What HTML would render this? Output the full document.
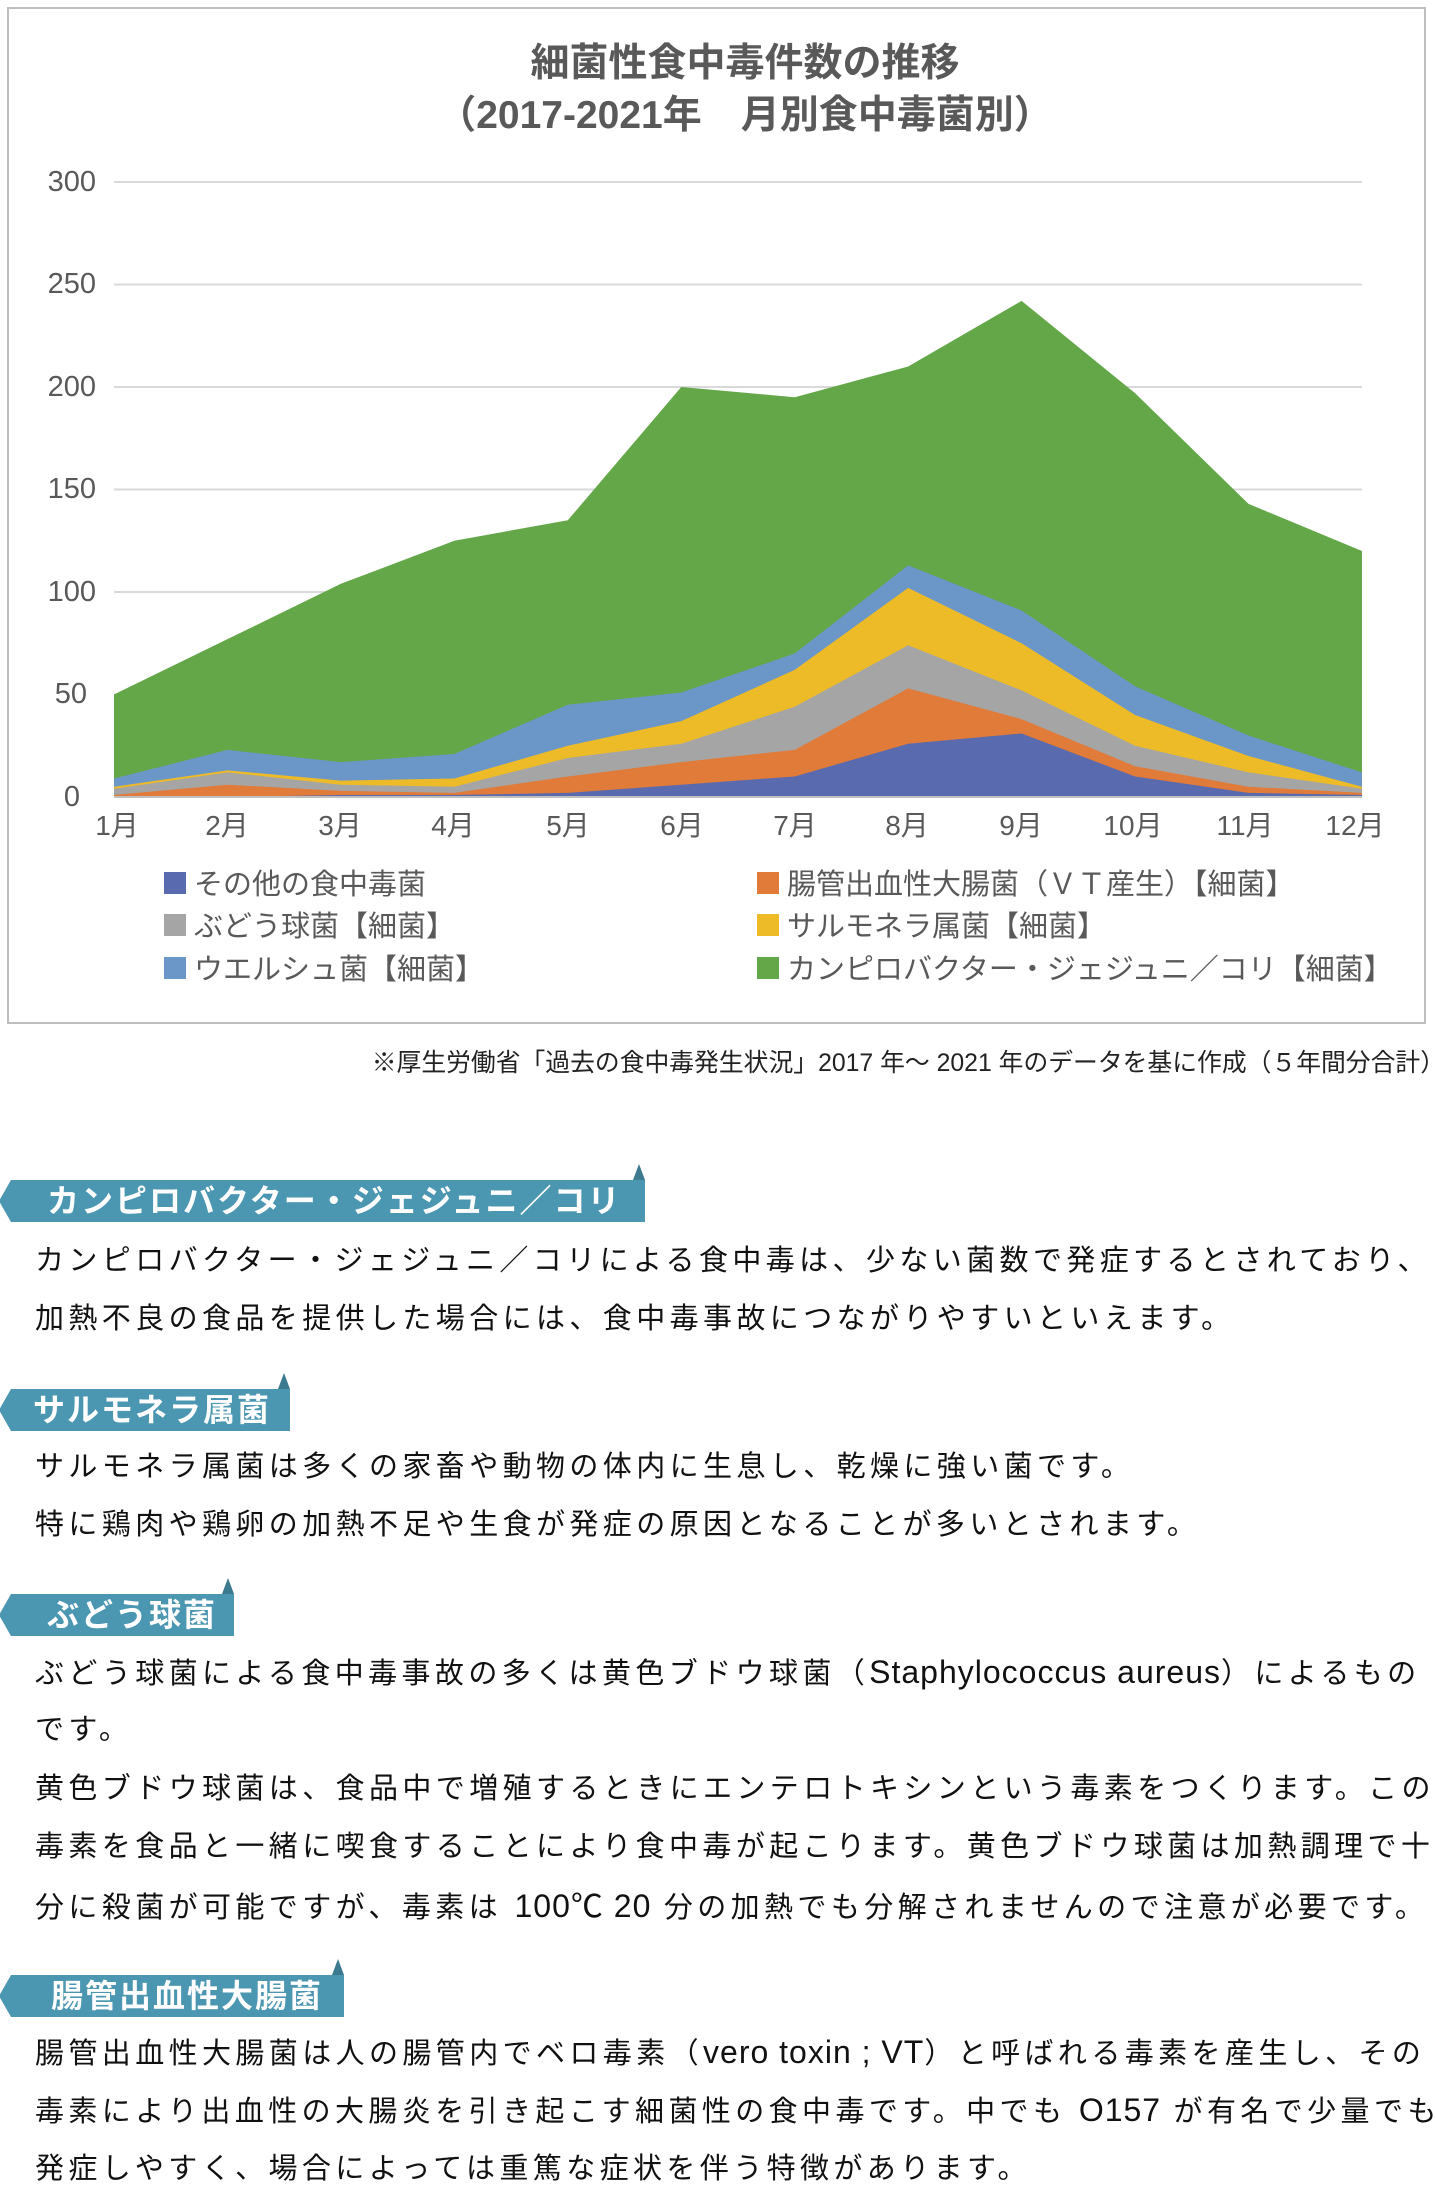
<!DOCTYPE html>
<html><head><meta charset="utf-8">
<style>
body{margin:0;width:1435px;height:2186px;background:#fff;overflow:hidden;position:relative;font-family:"Liberation Sans","Noto Sans CJK JP",sans-serif;}
.frame{position:absolute;left:7px;top:7px;width:1419px;height:1017px;border:2px solid #bdbdbd;box-sizing:border-box;}
.src{position:absolute;right:-10px;top:1043px;font-size:24.8px;color:#222;white-space:nowrap;}
.hd{position:absolute;left:11px;height:42px;background:#4b96b1;color:#fff;font-weight:bold;font-size:32px;line-height:42px;padding-left:36px;box-sizing:border-box;white-space:nowrap;letter-spacing:2px;}
.hd:before{content:"";position:absolute;left:-12px;top:0;border-right:12px solid #4b96b1;border-top:21px solid transparent;border-bottom:21px solid transparent;}
.hd:after{content:"";position:absolute;right:0;top:-16px;border-bottom:16px solid #3c7a90;border-left:6px solid transparent;border-right:6px solid transparent;}
.p{position:absolute;left:35px;font-size:29px;color:#111;white-space:nowrap;letter-spacing:4.4px;line-height:40px;}
.l{letter-spacing:1px;font-size:32px;}
</style></head><body>
<div class="frame"></div>
<svg width="1435" height="1030" style="position:absolute;left:0;top:0" font-family="Liberation Sans, Noto Sans CJK JP, sans-serif">
<text x="745" y="76" text-anchor="middle" font-size="39" font-weight="bold" fill="#595959">細菌性食中毒件数の推移</text>
<text x="745" y="128" text-anchor="middle" font-size="39" font-weight="bold" fill="#595959">（2017-2021年　月別食中毒菌別）</text>
<g stroke="#d9d9d9" stroke-width="2">
<line x1="114" x2="1362" y1="182" y2="182"/><line x1="114" x2="1362" y1="284.5" y2="284.5"/><line x1="114" x2="1362" y1="387" y2="387"/><line x1="114" x2="1362" y1="489.5" y2="489.5"/><line x1="114" x2="1362" y1="592" y2="592"/><line x1="114" x2="1362" y1="694.5" y2="694.5"/></g>
<g font-size="29" fill="#595959" text-anchor="end">
<text x="96" y="191">300</text><text x="96" y="293">250</text><text x="96" y="396">200</text><text x="96" y="498">150</text><text x="96" y="601">100</text><text x="87" y="703">50</text><text x="80" y="806">0</text></g>
<g transform="translate(114,797) scale(113.45,-2.05)">
<polygon fill="#63a748" points="0,50 1,77 2,104 3,125 4,135 5,200 6,195 7,210 8,242 9,197 10,143 11,120 11,0 0,0"/>
<polygon fill="#6b96c8" points="0,9 1,23 2,17 3,21 4,45 5,51 6,70 7,113 8,91 9,54 10,30 11,12 11,0 0,0"/>
<polygon fill="#edbb27" points="0,5 1,13 2,8 3,9 4,25 5,37 6,62 7,102 8,75 9,40 10,20 11,5 11,0 0,0"/>
<polygon fill="#a5a5a5" points="0,4 1,12 2,6 3,5 4,19 5,26 6,44 7,74 8,52 9,25 10,12 11,4 11,0 0,0"/>
<polygon fill="#e07b39" points="0,1 1,6 2,3 3,2 4,10 5,17 6,23 7,53 8,38 9,15 10,5 11,2 11,0 0,0"/>
<polygon fill="#5a6aae" points="0,0 1,0 2,1 3,1 4,2 5,6 6,10 7,26 8,31 9,10 10,2 11,1 11,0 0,0"/>
</g>
<line x1="114" x2="1362" y1="797" y2="797" stroke="#bfbfbf" stroke-width="2"/>
<g font-size="28" fill="#595959" text-anchor="middle">
<text x="117" y="835">1月</text><text x="227" y="835">2月</text><text x="340" y="835">3月</text><text x="453" y="835">4月</text><text x="568" y="835">5月</text><text x="682" y="835">6月</text><text x="795" y="835">7月</text><text x="907" y="835">8月</text><text x="1021" y="835">9月</text><text x="1133" y="835">10月</text><text x="1245" y="835">11月</text><text x="1355" y="835">12月</text></g>
<g font-size="29" fill="#595959">
<rect x="164" y="872" width="22" height="22" fill="#5a6aae"/><text x="194" y="894">その他の食中毒菌</text>
<rect x="164" y="914" width="22" height="22" fill="#a5a5a5"/><text x="194" y="936">ぶどう球菌【細菌】</text>
<rect x="164" y="957" width="22" height="22" fill="#6b96c8"/><text x="194" y="979">ウエルシュ菌【細菌】</text>
<rect x="757" y="872" width="22" height="22" fill="#e07b39"/><text x="787" y="894">腸管出血性大腸菌（ＶＴ産生）【細菌】</text>
<rect x="757" y="914" width="22" height="22" fill="#edbb27"/><text x="787" y="936">サルモネラ属菌【細菌】</text>
<rect x="757" y="957" width="22" height="22" fill="#63a748"/><text x="787" y="979">カンピロバクター・ジェジュニ／コリ【細菌】</text>
</g>
</svg>
<div class="src">※厚生労働省「過去の食中毒発生状況」2017 年～ 2021 年のデータを基に作成（５年間分合計）</div>

<div class="hd" style="top:1180px;width:634px">カンピロバクター・ジェジュニ／コリ</div>
<div class="p" style="top:1241px">カンピロバクター・ジェジュニ／コリによる食中毒は、少ない菌数で発症するとされており、</div>
<div class="p" style="top:1299px">加熱不良の食品を提供した場合には、食中毒事故につながりやすいといえます。</div>

<div class="hd" style="top:1389px;width:279px;padding-left:22px">サルモネラ属菌</div>
<div class="p" style="top:1447px">サルモネラ属菌は多くの家畜や動物の体内に生息し、乾燥に強い菌です。</div>
<div class="p" style="top:1505px">特に鶏肉や鶏卵の加熱不足や生食が発症の原因となることが多いとされます。</div>

<div class="hd" style="top:1594px;width:223px">ぶどう球菌</div>
<div class="p" style="top:1652px">ぶどう球菌による食中毒事故の多くは黄色ブドウ球菌（<span class="l">Staphylococcus aureus</span>）によるもの</div>
<div class="p" style="top:1710px">です。</div>
<div class="p" style="top:1769px">黄色ブドウ球菌は、食品中で増殖するときにエンテロトキシンという毒素をつくります。この</div>
<div class="p" style="top:1827px">毒素を食品と一緒に喫食することにより食中毒が起こります。黄色ブドウ球菌は加熱調理で十</div>
<div class="p" style="top:1886px">分に殺菌が可能ですが、毒素は <span class="l">100℃ 20</span> 分の加熱でも分解されませんので注意が必要です。</div>

<div class="hd" style="top:1975px;width:333px;padding-left:40px">腸管出血性大腸菌</div>
<div class="p" style="top:2032px">腸管出血性大腸菌は人の腸管内でベロ毒素（<span class="l">vero toxin ; VT</span>）と呼ばれる毒素を産生し、その</div>
<div class="p" style="top:2090px">毒素により出血性の大腸炎を引き起こす細菌性の食中毒です。中でも <span class="l">O157</span> が有名で少量でも</div>
<div class="p" style="top:2149px">発症しやすく、場合によっては重篤な症状を伴う特徴があります。</div>
</body></html>
